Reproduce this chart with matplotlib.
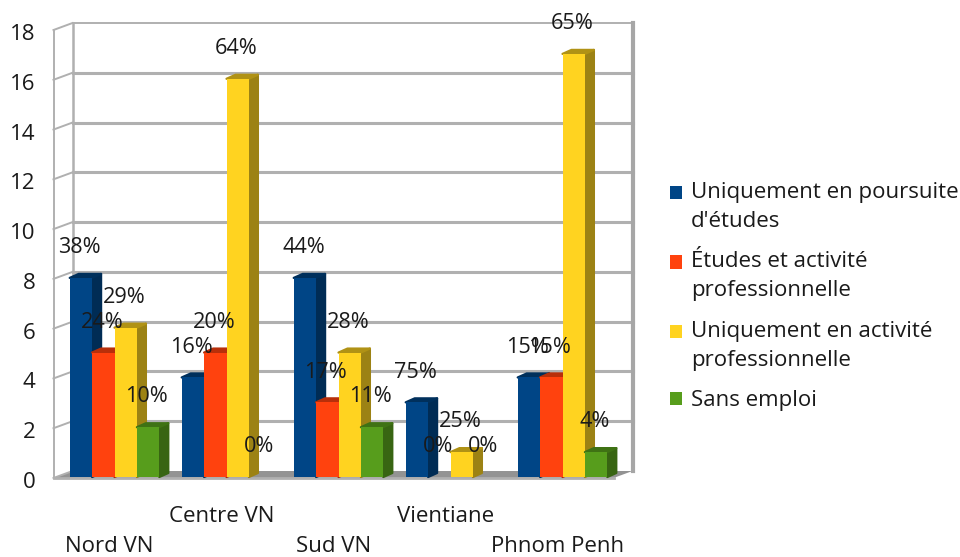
import matplotlib
matplotlib.use("Agg")
import matplotlib.pyplot as plt
from matplotlib.legend_handler import HandlerPatch
from matplotlib.patches import Patch, Polygon, Rectangle
from matplotlib.transforms import ScaledTranslation

categories = ["Nord VN", "Centre VN", "Sud VN", "Vientiane", "Phnom Penh"]
series_names = [
    "Uniquement en poursuite\nd'études",
    "Études et activité\nprofessionnelle",
    "Uniquement en activité\nprofessionnelle",
    "Sans emploi",
]
poursuite = [8, 4, 8, 3, 4]
etudes_activite = [5, 5, 3, 0, 4]
activite = [6, 16, 5, 1, 17]
sans_emploi = [2, 0, 2, 0, 1]

poursuite_pct = ["38%", "16%", "44%", "75%", "15%"]
etudes_activite_pct = ["24%", "20%", "17%", "0%", "15%"]
activite_pct = ["29%", "64%", "28%", "25%", "65%"]
sans_emploi_pct = ["10%", "0%", "11%", "0%", "4%"]

y_ticks = list(range(0, 20, 2))

# front, top and side colours of each series
colors = [
    ("#004586", "#00305c", "#002c55"),
    ("#ff420e", "#b82f0a", "#a82b09"),
    ("#ffd320", "#b09215", "#9c8214"),
    ("#579d1c", "#3f7214", "#386512"),
]

plt.rcParams["font.family"] = ["Open Sans", "DejaVu Sans"]
FS = 16
W, H = 960, 557
fig = plt.figure(figsize=(W / 100, H / 100), dpi=100)
ax = fig.add_axes([53.5 / W, 1 - 478 / H, 560 / W, 448 / H])
ax.set_xlim(-0.5, 4.5)
ax.set_ylim(0, 18)
ax.set_frame_on(False)

# pixel offsets converted to data units
PX = 1 / 112
PY = 18 / 448
wall_dx, wall_dy = 19 * PX, 7 * PY
bar_dx, bar_dy = 9 * PX, 4 * PY
base_dx, base_dy = 5 * PX, 1 * PY
bar_w = 0.2

# floor, back wall and side wall
ax.add_patch(Polygon([(-0.5, 0), (4.5, 0), (4.5 + wall_dx, wall_dy), (-0.5 + wall_dx, wall_dy)],
                     fc="#939393", ec="none", clip_on=False, zorder=1))
grid = "#b0b0b0"
for v in y_ticks:
    ax.plot([-0.5, -0.5 + wall_dx], [v, v + wall_dy], color=grid, lw=1.4, clip_on=False, zorder=1)
    if v > 0:
        ax.plot([-0.5 + wall_dx, 4.5 + wall_dx], [v + wall_dy, v + wall_dy], color=grid,
                lw=2.2 if v < 18 else 1.4, clip_on=False, zorder=1)
ax.plot([-0.5, -0.5], [0, 18], color=grid, lw=1.4, clip_on=False, zorder=1)
ax.plot([-0.5 + wall_dx, -0.5 + wall_dx], [wall_dy, 18 + wall_dy], color=grid, lw=1.8,
        clip_on=False, zorder=1)
ax.plot([4.5 + wall_dx, 4.5 + wall_dx], [wall_dy, 18 + wall_dy], color="#a6a6a6", lw=3,
        clip_on=False, zorder=1)
ax.plot([-0.5, 4.5], [0, 0], color=grid, lw=2, clip_on=False, zorder=1)

all_values = [poursuite, etudes_activite, activite, sans_emploi]
all_pct = [poursuite_pct, etudes_activite_pct, activite_pct, sans_emploi_pct]

z = 2
for i in range(len(categories)):
    for j, (values, pcts) in enumerate(zip(all_values, all_pct)):
        v = values[i]
        x0 = i - 2 * bar_w + j * bar_w + base_dx
        x1 = x0 + bar_w
        y0 = base_dy
        y1 = v + base_dy
        front, top, side = colors[j]
        if v > 0:
            ax.add_patch(Polygon([(x1, y0), (x1 + bar_dx, y0 + bar_dy), (x1 + bar_dx, y1 + bar_dy), (x1, y1)],
                                 fc=side, ec=side, lw=1.6, joinstyle="round", clip_on=False, zorder=z))
            ax.add_patch(Polygon([(x0, y1), (x1, y1), (x1 + bar_dx, y1 + bar_dy), (x0 + bar_dx, y1 + bar_dy)],
                                 fc=top, ec=top, lw=1.6, joinstyle="round", clip_on=False, zorder=z))
            ax.add_patch(Rectangle((x0, y0), bar_w, v, fc=front, ec="none", clip_on=False, zorder=z + 0.5))
        z += 1

for i in range(len(categories)):
    for j, (values, pcts) in enumerate(zip(all_values, all_pct)):
        x = i - 2 * bar_w + (j + 0.5) * bar_w + base_dx
        ax.annotate(pcts[i], (x, values[i]), xytext=(-1, 22.5), textcoords="offset points",
                    ha="center", va="center", fontsize=FS - 0.4, color="#1a1a1a", zorder=100,
                    annotation_clip=False)

ax.set_yticks(y_ticks)
ax.set_xticks(range(len(categories)))
ax.set_xticklabels(categories)
ax.tick_params(axis="both", length=0, labelsize=FS, labelcolor="#1a1a1a")
ax.tick_params(axis="y", pad=13)
shift_down = ScaledTranslation(0, -2 / 100, fig.dpi_scale_trans)
for lab in ax.get_yticklabels():
    lab.set_transform(lab.get_transform() + shift_down)
for n, tick in enumerate(ax.xaxis.get_major_ticks()):
    tick.set_pad(20 if n % 2 else 42)


def shifted_square(lines):
    def make(legend, orig_handle, xdescent, ydescent, width, height, fontsize):
        shift = 10.4 if lines > 1 else 0
        return Rectangle((-xdescent, -ydescent + shift), width, height)
    return make


handles = [Patch(fc=c[0], ec="none") for c in colors]
handler_map = {h: HandlerPatch(patch_func=shifted_square(name.count("\n") + 1))
               for h, name in zip(handles, series_names)}
fig.legend(handles, series_names, handler_map=handler_map, loc="center left",
           bbox_to_anchor=(670 / W, 1 - 296.5 / H), frameon=False, fontsize=FS,
           labelcolor="#1a1a1a", handlelength=0.53, handleheight=0.53, handletextpad=0.42,
           labelspacing=0.87, borderpad=0, borderaxespad=0)
for t in fig.legends[0].get_texts():
    t.set_linespacing(1.5)

fig.savefig("out.png", dpi=100)
